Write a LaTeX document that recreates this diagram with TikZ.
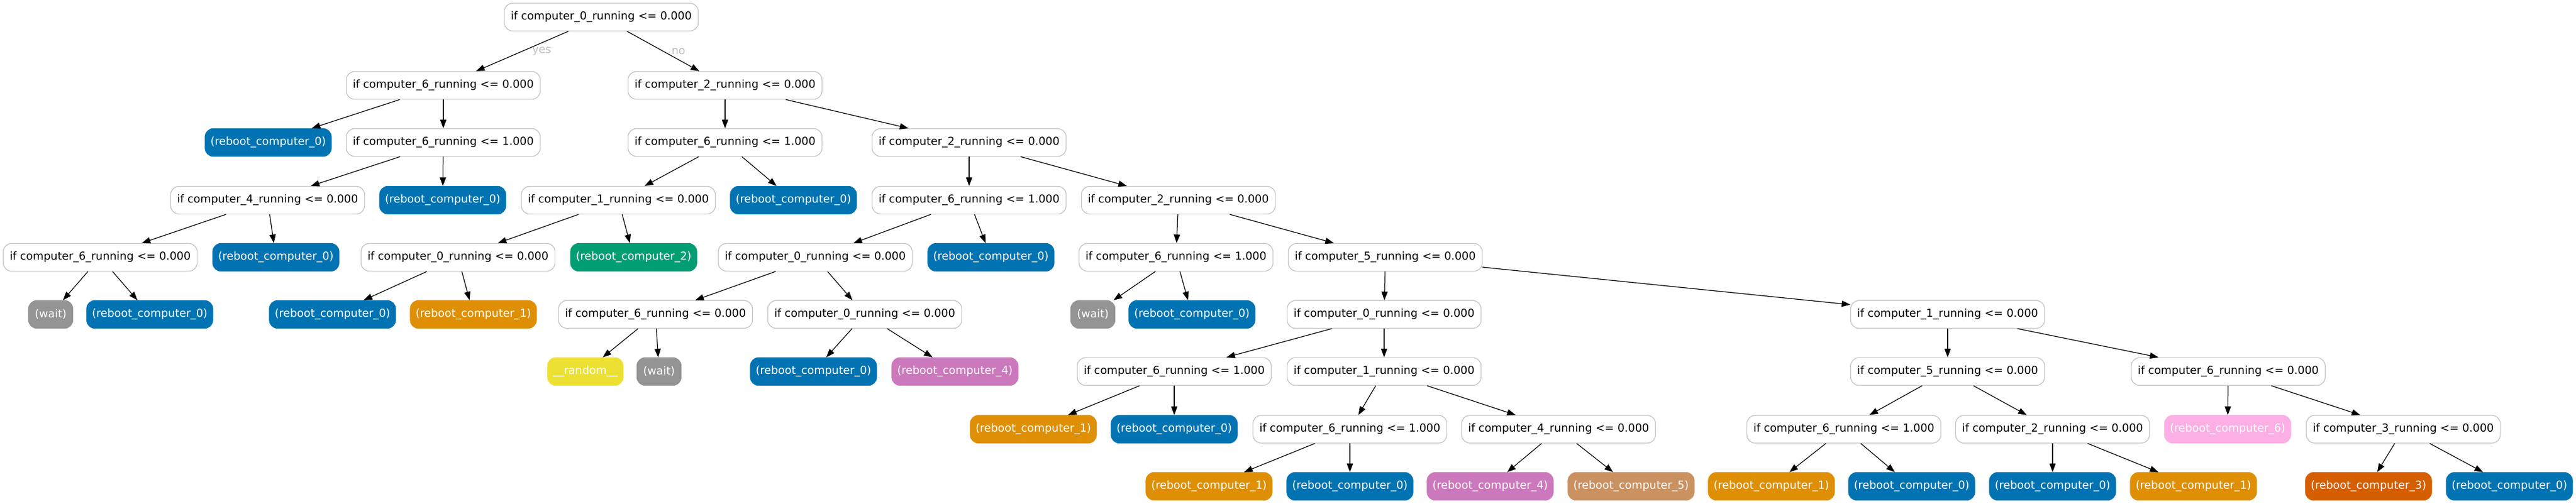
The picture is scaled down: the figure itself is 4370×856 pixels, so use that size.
\documentclass[tikz,border=0pt]{standalone}
\usepackage{fontspec}
\usetikzlibrary{arrows.meta}
\newfontfamily\dvfont{DejaVu Sans}
\definecolor{cb0}{HTML}{0173B2}
\definecolor{cb1}{HTML}{DE8F05}
\definecolor{cb2}{HTML}{029E73}
\definecolor{cb3}{HTML}{D55E00}
\definecolor{cb4}{HTML}{CC78BC}
\definecolor{cb5}{HTML}{CA9161}
\definecolor{cb6}{HTML}{FBAFE4}
\definecolor{cbwait}{HTML}{949494}
\definecolor{cbrand}{HTML}{ECE133}
\definecolor{bordergray}{HTML}{C4C4C4}
\definecolor{labelgray}{HTML}{BDBDBD}
\newcommand{\condtxt}[2]{if computer\_#1\_running <= #2.000}
\newcommand{\rbt}[1]{(reboot\_computer\_#1)}
\tikzset{
  basefont/.style={font={\dvfont\fontsize{18.67}{22}\selectfont}},
  dec/.style={basefont, draw=bordergray, line width=1.3pt, fill=white, rounded corners=14pt,
    minimum width=329pt, minimum height=47pt, inner sep=0pt, text=black},
  leafbox/.style={basefont, draw=#1, fill=#1, line width=1.3pt, rounded corners=14pt,
    minimum width=214pt, minimum height=47pt, inner sep=0pt, text=white},
  conn/.style={-{Triangle[length=14.5pt,width=10.5pt]}, line width=1.25pt, black},
  lbl/.style={basefont, text=labelgray, inner sep=0pt}
}
\begin{document}
\begin{tikzpicture}[x=1pt,y=-1pt]
\useasboundingbox (0,0) rectangle (4370,856);
% row 1
\node[dec] (n0) at (1020,29) {\condtxt{0}{0}};
% row 2
\node[dec] (n1) at (752,145) {\condtxt{6}{0}};
\node[dec] (n2) at (1230,145) {\condtxt{2}{0}};
% row 3
\node[leafbox=cb0] (l1) at (455,242) {\rbt{0}};
\node[dec] (n3) at (752,242) {\condtxt{6}{1}};
\node[dec] (n4) at (1230,242) {\condtxt{6}{1}};
\node[dec] (n5) at (1644,242) {\condtxt{2}{0}};
% row 4
\node[dec] (n6) at (454,340) {\condtxt{4}{0}};
\node[leafbox=cb0] (l2) at (751,340) {\rbt{0}};
\node[dec] (n7) at (1049,340) {\condtxt{1}{0}};
\node[leafbox=cb0] (l3) at (1346,340) {\rbt{0}};
\node[dec] (n8) at (1644,340) {\condtxt{6}{1}};
\node[dec] (n9) at (1999,340) {\condtxt{2}{0}};
% row 5
\node[dec] (n10) at (170,437) {\condtxt{6}{0}};
\node[leafbox=cb0] (l4) at (468,437) {\rbt{0}};
\node[dec] (n11) at (777,437) {\condtxt{0}{0}};
\node[leafbox=cb2] (l5) at (1075,437) {\rbt{2}};
\node[dec] (n12) at (1383,437) {\condtxt{0}{0}};
\node[leafbox=cb0] (l6) at (1681,437) {\rbt{0}};
\node[dec] (n13) at (1995,437) {\condtxt{6}{1}};
\node[dec] (n14) at (2350,437) {\condtxt{5}{0}};
% row 6
\node[leafbox=cbwait, minimum width=75pt] (l7) at (86,534) {(wait)};
\node[leafbox=cb0] (l8) at (254,534) {\rbt{0}};
\node[leafbox=cb0] (l9) at (564,534) {\rbt{0}};
\node[leafbox=cb1] (l10) at (803,534) {\rbt{1}};
\node[dec] (n15) at (1112,534) {\condtxt{6}{0}};
\node[dec] (n16) at (1467,534) {\condtxt{0}{0}};
\node[leafbox=cbwait, minimum width=75pt] (l11) at (1854,534) {(wait)};
\node[leafbox=cb0] (l12) at (2022,534) {\rbt{0}};
\node[dec] (n17) at (2348,534) {\condtxt{0}{0}};
\node[dec] (n18) at (3304,534) {\condtxt{1}{0}};
% row 7
\node[leafbox=cbrand, minimum width=128pt] (l13) at (993,631) {\_\_random\_\_};
\node[leafbox=cbwait, minimum width=75pt] (l14) at (1118,631) {(wait)};
\node[leafbox=cb0] (l15) at (1380,631) {\rbt{0}};
\node[leafbox=cb4] (l16) at (1620,631) {\rbt{4}};
\node[dec] (n19) at (1992,631) {\condtxt{6}{1}};
\node[dec] (n20) at (2348,631) {\condtxt{1}{0}};
\node[dec] (n21) at (3304,631) {\condtxt{5}{0}};
\node[dec] (n22) at (3780,631) {\condtxt{6}{0}};
% row 8
\node[leafbox=cb1] (l17) at (1753,729) {\rbt{1}};
\node[leafbox=cb0] (l18) at (1992,729) {\rbt{0}};
\node[dec] (n23) at (2290,729) {\condtxt{6}{1}};
\node[dec] (n24) at (2644,729) {\condtxt{4}{0}};
\node[dec] (n25) at (3128,729) {\condtxt{6}{1}};
\node[dec] (n26) at (3482,729) {\condtxt{2}{0}};
\node[leafbox=cb6] (l19) at (3779,729) {\rbt{6}};
\node[dec] (n27) at (4077,729) {\condtxt{3}{0}};
% row 9
\node[leafbox=cb1] (l20) at (2051,826) {\rbt{1}};
\node[leafbox=cb0] (l21) at (2290,826) {\rbt{0}};
\node[leafbox=cb4] (l22) at (2528,826) {\rbt{4}};
\node[leafbox=cb5] (l23) at (2767,826) {\rbt{5}};
\node[leafbox=cb1] (l24) at (3005,826) {\rbt{1}};
\node[leafbox=cb0] (l25) at (3243,826) {\rbt{0}};
\node[leafbox=cb0] (l26) at (3482,826) {\rbt{0}};
\node[leafbox=cb1] (l27) at (3721,826) {\rbt{1}};
\node[leafbox=cb3] (l28) at (4018,826) {\rbt{3}};
\node[leafbox=cb0] (l29) at (4257,826) {\rbt{0}};
% labels
\node[lbl] (lyes) at (919,87) {yes};
\node[lbl] (lno) at (1151,87) {no};
% edges
\draw[conn] (n0) -- (n1);
\draw[conn] (n0) -- (n2);
\draw[conn] (n1) -- (l1);
\draw[conn] (n1) -- (n3);
\draw[conn] (n2) -- (n4);
\draw[conn] (n2) -- (n5);
\draw[conn] (n3) -- (n6);
\draw[conn] (n3) -- (l2);
\draw[conn] (n4) -- (n7);
\draw[conn] (n4) -- (l3);
\draw[conn] (n5) -- (n8);
\draw[conn] (n5) -- (n9);
\draw[conn] (n6) -- (n10);
\draw[conn] (n6) -- (l4);
\draw[conn] (n7) -- (n11);
\draw[conn] (n7) -- (l5);
\draw[conn] (n8) -- (n12);
\draw[conn] (n8) -- (l6);
\draw[conn] (n9) -- (n13);
\draw[conn] (n9) -- (n14);
\draw[conn] (n10) -- (l7);
\draw[conn] (n10) -- (l8);
\draw[conn] (n11) -- (l9);
\draw[conn] (n11) -- (l10);
\draw[conn] (n12) -- (n15);
\draw[conn] (n12) -- (n16);
\draw[conn] (n13) -- (l11);
\draw[conn] (n13) -- (l12);
\draw[conn] (n14) -- (n17);
\draw[conn] (n14) -- (n18);
\draw[conn] (n15) -- (l13);
\draw[conn] (n15) -- (l14);
\draw[conn] (n16) -- (l15);
\draw[conn] (n16) -- (l16);
\draw[conn] (n17) -- (n19);
\draw[conn] (n17) -- (n20);
\draw[conn] (n18) -- (n21);
\draw[conn] (n18) -- (n22);
\draw[conn] (n19) -- (l17);
\draw[conn] (n19) -- (l18);
\draw[conn] (n20) -- (n23);
\draw[conn] (n20) -- (n24);
\draw[conn] (n21) -- (n25);
\draw[conn] (n21) -- (n26);
\draw[conn] (n22) -- (l19);
\draw[conn] (n22) -- (n27);
\draw[conn] (n23) -- (l20);
\draw[conn] (n23) -- (l21);
\draw[conn] (n24) -- (l22);
\draw[conn] (n24) -- (l23);
\draw[conn] (n25) -- (l24);
\draw[conn] (n25) -- (l25);
\draw[conn] (n26) -- (l26);
\draw[conn] (n26) -- (l27);
\draw[conn] (n27) -- (l28);
\draw[conn] (n27) -- (l29);
\end{tikzpicture}
\end{document}
